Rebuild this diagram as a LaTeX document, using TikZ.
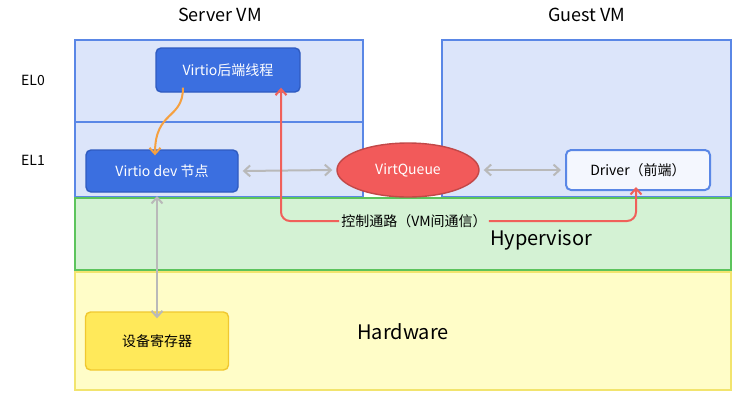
\documentclass[tikz,border=0pt]{standalone}
\usepackage{fontspec}
\setmainfont{Noto Sans CJK SC}
\usetikzlibrary{shapes.geometric,arrows.meta}
\definecolor{vmfill}{HTML}{DCE5FA}
\definecolor{vmline}{HTML}{5A87E6}
\definecolor{hvfill}{HTML}{D4F2D4}
\definecolor{hvline}{HTML}{5CC45C}
\definecolor{hwfill}{HTML}{FFFDC8}
\definecolor{hwline}{HTML}{F2E46E}
\definecolor{blk}{HTML}{3B6FE0}
\definecolor{blkline}{HTML}{2F5BC0}
\definecolor{qfill}{HTML}{F25A5A}
\definecolor{regfill}{HTML}{FFE95A}
\definecolor{regline}{HTML}{F0C830}
\definecolor{ctl}{HTML}{F0605A}
\definecolor{orng}{HTML}{F5A040}
\tikzset{
  layer/.style={draw=#1, line width=1.6pt},
  txt/.style={font=\fontsize{14}{16}\selectfont},
  blue box/.style={draw=blkline, fill=blk, text=white, rounded corners=5pt, line width=1.4pt, txt},
  garrow/.style={draw=gray!55, line width=2pt, {Straight Barb[length=6pt,width=11pt]}-{Straight Barb[length=6pt,width=11pt]}},
  ctlarrow/.style={draw=ctl, line width=2pt, -{Straight Barb[length=6pt,width=11pt]}, rounded corners=9pt},
  title/.style={font=\fontsize{18}{20}\selectfont},
}
\begin{document}
\begin{tikzpicture}[x=1pt,y=-1pt]
\useasboundingbox (0,0) rectangle (748,400);
% layers
\draw[layer=vmline, fill=vmfill] (75,40) rectangle (363,197);
\draw[layer=vmline] (75,122) -- (363,122);
\draw[layer=vmline, fill=vmfill] (442,40) rectangle (731,197);
\draw[layer=hvline, fill=hvfill] (75,198) rectangle (731,270);
\draw[layer=hwline, fill=hwfill] (75,272) rectangle (731,390);
% labels
\node[title] (sv) at (220,15) {Server VM};
\node[title] (gv) at (587,15) {Guest VM};
\node[txt] (el0) at (33,80) {EL0};
\node[txt] (el1) at (33,160) {EL1};
\node[font=\fontsize{20}{22}\selectfont] (hv) at (541,240) {Hypervisor};
\node[font=\fontsize{20}{22}\selectfont] (hw) at (403,332) {Hardware};
% nodes
\node[blue box, minimum width=144pt, minimum height=44pt] (be) at (228,70) {Virtio后端线程};
\node[blue box, minimum width=152pt, minimum height=42pt] (dev) at (162,171) {Virtio dev 节点};
\node[ellipse, draw=qfill!80!black, fill=qfill, text=white, line width=1.4pt, minimum width=142pt, minimum height=54pt, txt] (vq) at (408,170) {VirtQueue};
\node[draw=vmline, fill=white!70!vmfill, rounded corners=5pt, line width=2pt, minimum width=144pt, minimum height=40pt, txt] (drv) at (638,170) {Driver（前端）};
\node[draw=regline, fill=regfill, rounded corners=5pt, line width=1.4pt, minimum width=143pt, minimum height=58pt, txt] (reg) at (157,341) {设备寄存器};
\node[txt, inner sep=2pt] (ctltxt) at (414,221) {控制通路（VM间通信）};
% connectors
\coordinate (regtop) at ([yshift=-7pt]reg.north);
\draw[garrow] (157,196) -- (regtop);
\draw[garrow] ([xshift=4pt]dev.east) -- ([xshift=-4pt]vq.west);
\draw[garrow] ([xshift=4pt]vq.east) -- ([xshift=-4pt]drv.west);
\draw[draw=orng, line width=2pt, -{Straight Barb[length=6pt,width=11pt]}] ([yshift=5pt]be.south -| 183,0) .. controls (183,120) and (155,110) .. ([yshift=-6pt]dev.north -| 155,0);
\draw[ctlarrow] (ctltxt.west) -- (281,221) -- ([yshift=5pt]be.south -| 281,0);
\draw[ctlarrow] (ctltxt.east) -- (636,221) -- ([yshift=4pt]drv.south -| 636,0);
\end{tikzpicture}
\end{document}
